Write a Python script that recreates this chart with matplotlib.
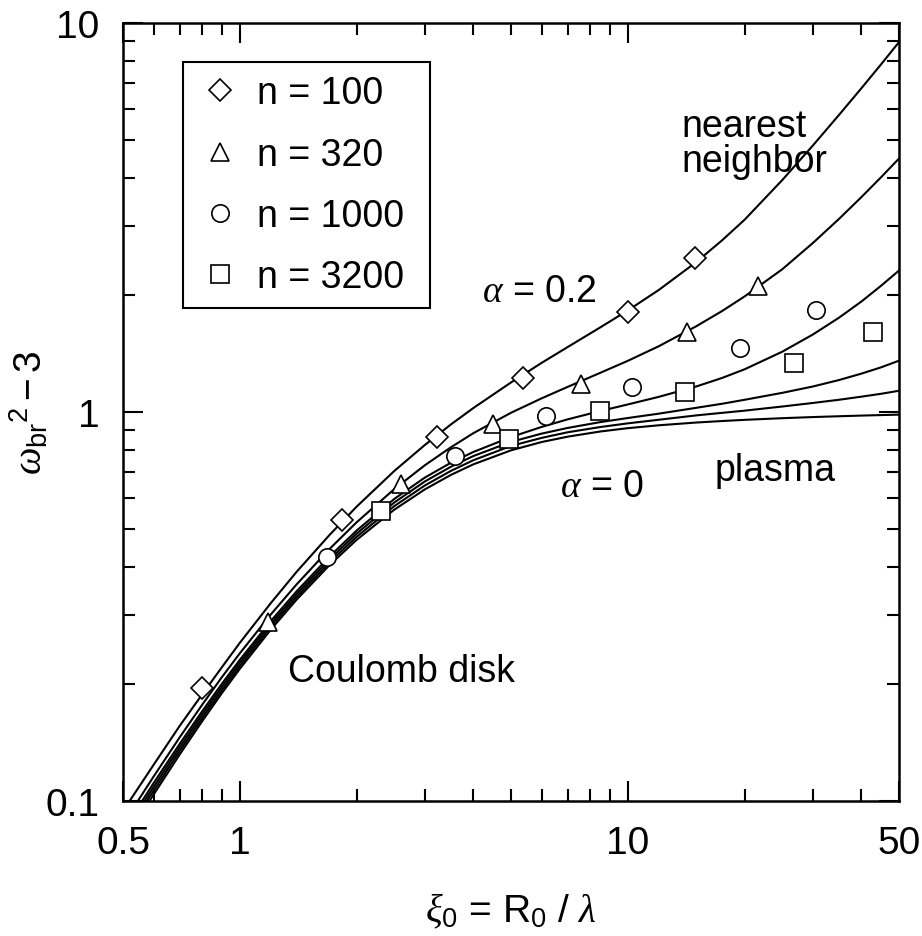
import matplotlib
matplotlib.use('Agg')
import matplotlib.pyplot as plt
from matplotlib.ticker import FixedLocator, FixedFormatter, NullFormatter

plt.rcParams['font.family'] = ['Liberation Sans', 'DejaVu Sans']
plt.rcParams['mathtext.fontset'] = 'custom'
plt.rcParams['mathtext.rm'] = 'Liberation Sans'
plt.rcParams['mathtext.it'] = 'Liberation Serif:italic'
plt.rcParams['mathtext.bf'] = 'Liberation Sans:bold'

# model curves, alpha = 0.2 (top) down to alpha = 0 (bottom)
c1_x = [0.52, 0.6, 0.7, 0.8, 0.9, 1, 1.2, 1.4, 1.7, 2, 2.5, 3, 3.5, 4, 5, 6, 7, 8.5,
        10, 12, 15, 17.5, 20, 25, 30, 35, 40, 45, 50]
c1_y = [0.1, 0.124, 0.156, 0.188, 0.221, 0.255, 0.322, 0.388, 0.482, 0.571, 0.705, 0.823,
        0.929, 1.024, 1.191, 1.338, 1.469, 1.651, 1.824, 2.057, 2.427, 2.763, 3.121,
        3.945, 4.844, 5.799, 6.796, 7.839, 8.93]
c2_x = [0.546, 0.6, 0.7, 0.8, 0.9, 1, 1.2, 1.4, 1.7, 2, 2.5, 3, 3.5, 4, 5, 6, 7, 8.5,
        10, 12, 15, 17.5, 20, 25, 30, 35, 40, 45, 50]
c2_y = [0.1, 0.1157, 0.1458, 0.1768, 0.2084, 0.2397, 0.3011, 0.3602, 0.4437, 0.5205,
        0.6334, 0.7298, 0.8115, 0.8824, 0.9954, 1.0845, 1.1604, 1.2615, 1.3537, 1.4748,
        1.6604, 1.818, 1.982, 2.327, 2.72, 3.134, 3.568, 4.018, 4.483]
c3_x = [0.56, 0.6, 0.7, 0.8, 0.9, 1, 1.2, 1.4, 1.7, 2, 2.5, 3, 3.5, 4, 5, 6, 7, 8.5,
        10, 12, 15, 17.5, 20, 25, 30, 35, 40, 45, 50]
c3_y = [0.1, 0.1113, 0.1402, 0.1701, 0.2004, 0.2306, 0.2895, 0.3457, 0.4244, 0.4956,
        0.5975, 0.6785, 0.7406, 0.7894, 0.8622, 0.9156, 0.9574, 1.006, 1.0457, 1.0934,
        1.1628, 1.2233, 1.2876, 1.4286, 1.5823, 1.747, 1.923, 2.113, 2.31]
c4_x = [0.568, 0.6, 0.7, 0.8, 0.9, 1, 1.2, 1.4, 1.7, 2, 2.5, 3, 3.5, 4, 5, 6, 7, 8.5,
        10, 12, 15, 17.5, 20, 25, 30, 35, 40, 45, 50]
c4_y = [0.1, 0.1088, 0.1373, 0.1668, 0.1968, 0.2266, 0.2847, 0.340, 0.4172, 0.4867,
        0.5851, 0.6631, 0.7232, 0.7706, 0.838, 0.88, 0.91, 0.942, 0.965, 0.99, 1.025,
        1.05, 1.075, 1.12, 1.163, 1.208, 1.255, 1.303, 1.355]
c5_x = [0.576, 0.6, 0.7, 0.8, 0.9, 1, 1.2, 1.4, 1.7, 2, 2.5, 3, 3.5, 4, 5, 6, 7, 8.5,
        10, 12, 15, 17.5, 20, 25, 30, 35, 40, 45, 50]
c5_y = [0.1, 0.1064, 0.1345, 0.1635, 0.1931, 0.2225, 0.2799, 0.3344, 0.4101, 0.4777,
        0.5726, 0.6475, 0.7057, 0.7517, 0.818, 0.858, 0.887, 0.915, 0.935, 0.955, 0.98,
        0.995, 1.008, 1.033, 1.055, 1.075, 1.095, 1.114, 1.134]
c6_x = [0.585, 0.6, 0.7, 0.8, 0.9, 1, 1.2, 1.4, 1.7, 2, 2.5, 3, 3.5, 4, 5, 6, 7, 8.5,
        10, 12, 15, 17.5, 20, 25, 30, 35, 40, 45, 50]
c6_y = [0.1, 0.104, 0.1317, 0.1604, 0.1896, 0.2186, 0.2752, 0.3291, 0.4033, 0.4691,
        0.5607, 0.6327, 0.6891, 0.7337, 0.797, 0.8373, 0.8642, 0.8911, 0.9087, 0.9243,
        0.9395, 0.948, 0.9546, 0.964, 0.9705, 0.9752, 0.979, 0.982, 0.9845]

# simulation points
n100_x = [0.80, 1.83, 3.23, 5.38, 10.0, 14.9]
n100_y = [0.195, 0.528, 0.861, 1.223, 1.805, 2.49]
n320_x = [1.18, 2.61, 4.50, 7.57, 14.17, 21.7]
n320_y = [0.289, 0.653, 0.932, 1.18, 1.603, 2.104]
n1000_x = [1.68, 3.59, 6.15, 10.28, 19.46, 30.55]
n1000_y = [0.423, 0.769, 0.975, 1.157, 1.458, 1.833]
n3200_x = [2.31, 4.95, 8.48, 14.02, 26.87, 42.76]
n3200_y = [0.558, 0.852, 1.008, 1.126, 1.337, 1.609]

xticks = [0.5, 1, 10, 50]
xtick_labels = ['0.5', '1', '10', '50']
xminor = [0.6, 0.7, 0.8, 0.9, 2, 3, 4, 5, 6, 7, 8, 9, 20, 30, 40]
yticks = [0.1, 1, 10]
ytick_labels = ['0.1', '1', '10']
yminor = [0.2, 0.3, 0.4, 0.5, 0.6, 0.7, 0.8, 0.9, 2, 3, 4, 5, 6, 7, 8, 9]

W, H = 922, 937
def fpos(x, y):
    return x / W, 1 - y / H

fig = plt.figure(figsize=(9.22, 9.37), dpi=100)
ax = fig.add_axes([123/W, 1 - 802/H, 776/W, 778/H])

for cx, cy in [(c1_x, c1_y), (c2_x, c2_y), (c3_x, c3_y),
               (c4_x, c4_y), (c5_x, c5_y), (c6_x, c6_y)]:
    ax.plot(cx, cy, color='black', lw=1.5, zorder=2)

mk = dict(ls='none', mfc='white', mec='black', mew=1.2, zorder=3)
ax.plot(n100_x, n100_y, marker='D', ms=11.5, label='n = 100', **mk)
ax.plot(n320_x, n320_y, marker='^', ms=12.5, label='n = 320', **mk)
ax.plot(n1000_x, n1000_y, marker='o', ms=12.5, label='n = 1000', **mk)
ax.plot(n3200_x, n3200_y, marker='s', ms=12.5, label='n = 3200', **mk)

ax.set_xscale('log')
ax.set_yscale('log')
ax.set_xlim(0.5, 50)
ax.set_ylim(0.1, 10)
ax.xaxis.set_major_locator(FixedLocator(xticks))
ax.xaxis.set_major_formatter(FixedFormatter(xtick_labels))
ax.xaxis.set_minor_locator(FixedLocator(xminor))
ax.xaxis.set_minor_formatter(NullFormatter())
ax.yaxis.set_major_locator(FixedLocator(yticks))
ax.yaxis.set_major_formatter(FixedFormatter(ytick_labels))
ax.yaxis.set_minor_locator(FixedLocator(yminor))
ax.yaxis.set_minor_formatter(NullFormatter())
ax.tick_params(which='both', direction='in', top=True, right=True,
               width=1.5, labelsize=28, pad=17)
ax.tick_params(which='major', length=14.5)
ax.tick_params(which='minor', length=8.6)
for s in ax.spines.values():
    s.set_linewidth(1.8)

ax.set_xlabel(r'$\xi_0$ = R$_0$ / $\lambda$', fontsize=28)
ax.xaxis.set_label_coords(0.5, -0.115)
ax.set_ylabel(r'$\omega_{\mathrm{br}}{}^{2} - 3$', fontsize=28)
ax.yaxis.set_label_coords(-0.094, 0.5)

leg = ax.legend(loc='upper left', bbox_to_anchor=(183/W, 1 - 305/H, 247/W, 242/H),
                bbox_transform=fig.transFigure, mode='expand', borderaxespad=0,
                fontsize=27, fancybox=False, edgecolor='black', framealpha=1,
                borderpad=0.36, labelspacing=0.67, handlelength=1.25,
                handletextpad=0.36, numpoints=1)
leg.get_frame().set_linewidth(1.5)

fig.text(*fpos(482, 302), r'$\alpha$ = 0.2', fontsize=27)
fig.text(*fpos(560, 497), r'$\alpha$ = 0', fontsize=27)
fig.text(*fpos(681, 137), 'nearest', fontsize=27)
fig.text(*fpos(681, 172), 'neighbor', fontsize=27)
fig.text(*fpos(715, 481), 'plasma', fontsize=27)
fig.text(*fpos(288, 682), 'Coulomb disk', fontsize=27)

fig.savefig('out.png', dpi=100)
